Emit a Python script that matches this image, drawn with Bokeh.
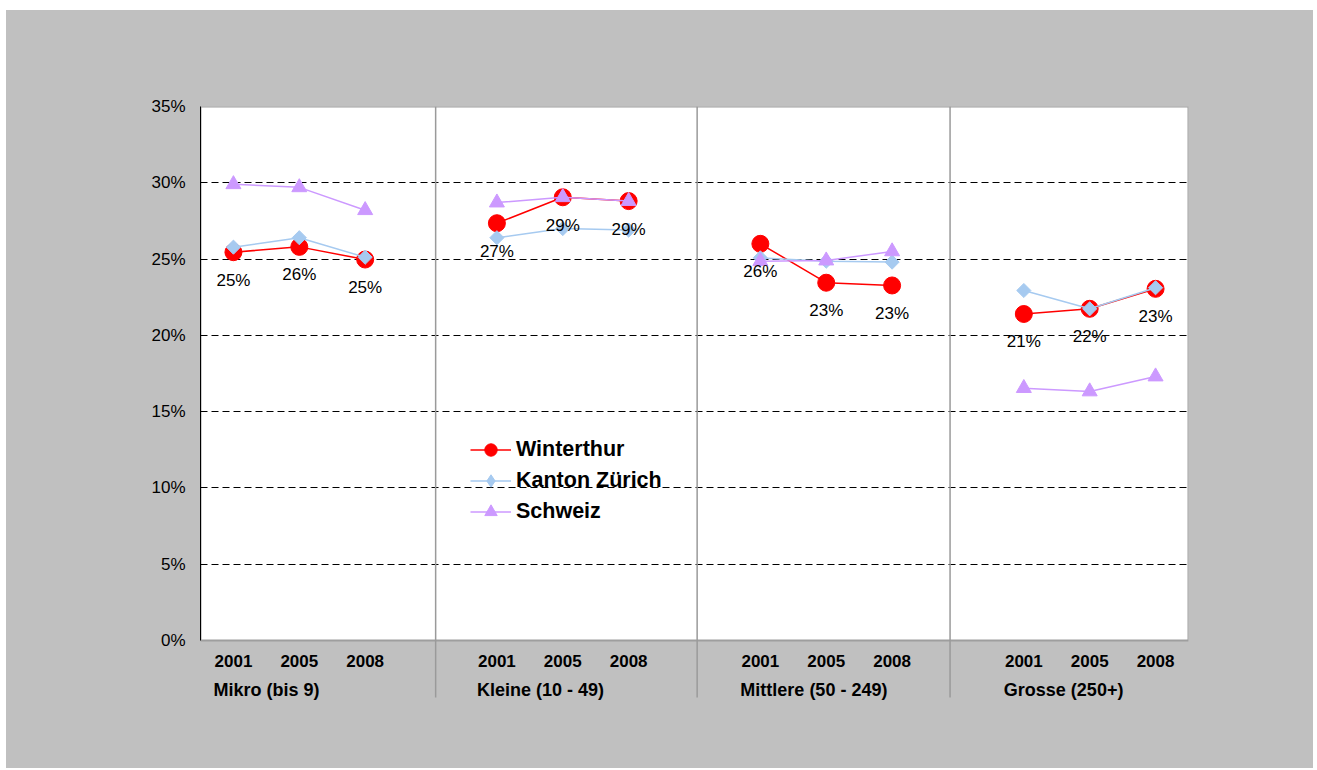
import numpy as np
from bokeh.plotting import figure
from bokeh.models import Range1d, FixedTicker, Legend, LegendItem
from bokeh.core.properties import value
from bokeh.embed import file_html
from bokeh.resources import INLINE

# ---------------- data ----------------
groups = ["Mikro (bis 9)", "Kleine (10 - 49)", "Mittlere (50 - 249)", "Grosse (250+)"]
years = ["2001", "2005", "2008"]
winterthur = [25.45, 25.8, 24.97, 27.35, 29.05, 28.8, 26.0, 23.45, 23.27, 21.4, 21.74, 23.05]
kanton_zuerich = [25.78, 26.4, 25.12, 26.4, 27.0, 26.9, 25.08, 24.86, 24.8, 22.94, 21.74, 23.12]
schweiz = [29.9, 29.7, 28.2, 28.7, 29.05, 28.8, 24.86, 24.9, 25.5, 16.54, 16.32, 17.3]
y_ticks = [0, 5, 10, 15, 20, 25, 30, 35]

# ---------------- layout ----------------
FONT = "Liberation Sans"
GRAY = "#C0C0C0"
W, H = 1307, 758
FRAME_L, FRAME_R, FRAME_T, FRAME_B = 194, 1182, 96, 695   # figure px
ZERO_PX = 630                                             # figure px of 0 %
Y_MAX = y_ticks[-1]
px_per_unit = (ZERO_PX - FRAME_T) / Y_MAX
y_start = -(FRAME_B - ZERO_PX) / px_per_unit
sep_bottom = -(687 - ZERO_PX) / px_per_unit
slots_per_group = len(years) + 1
n_slots = len(groups) * slots_per_group - 1
separators = [3.57, 7.54, 11.38]


def slot(g, j):
    return g * slots_per_group + j + 0.5


def series_xy(vals):
    xs, ys = [], []
    for g in range(len(groups)):
        for j in range(len(years)):
            xs.append(slot(g, j))
            ys.append(vals[g * len(years) + j])
        xs.append(np.nan)
        ys.append(np.nan)
    return xs, ys


p = figure(width=W, height=H, output_backend="svg", toolbar_location=None,
           x_range=Range1d(0, n_slots), y_range=Range1d(y_start, Y_MAX),
           x_axis_location=None, min_border_left=FRAME_L,
           min_border_right=W - FRAME_R, min_border_top=FRAME_T,
           min_border_bottom=H - FRAME_B, margin=(10, 0, 0, 6))
p.background_fill_color = GRAY
p.border_fill_color = GRAY
p.outline_line_color = None
p.styles = {"background-color": GRAY}

# plot area
p.quad(left=[0], right=[n_slots], bottom=[0], top=[Y_MAX], fill_color="white",
       line_color="#9E9E9E", line_width=2, level="image")

# y axis
ax = p.yaxis[0]
ax.ticker = FixedTicker(ticks=y_ticks)
ax.bounds = (0, Y_MAX)
ax.major_label_overrides = {t: f"{t}%" for t in y_ticks}
ax.major_tick_out = 0
ax.major_tick_in = 0
ax.minor_tick_out = 0
ax.minor_tick_in = 0
ax.axis_line_color = "black"
ax.axis_line_width = 1
ax.major_label_standoff = 15
ax.major_label_text_font = FONT
ax.major_label_text_font_size = "17px"
ax.major_label_text_color = "black"

g = p.ygrid[0]
g.ticker = FixedTicker(ticks=y_ticks[1:])
g.grid_line_color = "black"
g.grid_line_dash = "7 4"
g.grid_line_width = 1
p.xgrid.visible = False

# group separators
p.segment(x0=separators, y0=[Y_MAX] * 3, x1=separators, y1=[sep_bottom] * 3,
          line_color="#9A9A9A", line_width=1.5)

# series
series = [
    ("Winterthur", winterthur, "#FF0000", "circle", 17, 0, "circle"),
    ("Kanton Zürich", kanton_zuerich, "#A6CAF0", "square", 10, np.pi / 4, "diamond"),
    ("Schweiz", schweiz, "#CC99FF", "triangle", 15, 0, "triangle"),
]
items = []
for name, vals, col, marker, size, ang, leg_marker in series:
    xs, ys = series_xy(vals)
    lr = p.line(xs, ys, line_color=col, line_width=1.5)
    px = [x for x in xs if not np.isnan(x)]
    p.scatter(px, vals, marker=marker, size=size, angle=ang,
              fill_color=col, line_color=col)
    # legend-only glyph (not drawn in the plot) so the key shows the marker
    lg = p.scatter(x=[np.nan], y=[np.nan], marker=leg_marker, size=size,
                   fill_color=col, line_color=col)
    items.append(LegendItem(label=name, renderers=[lr, lg]))

# data labels (Winterthur)
wx = [slot(g_, j) for g_ in range(len(groups)) for j in range(len(years))]
p.text(x=wx, y=winterthur, text=[f"{round(v)}%" for v in winterthur],
       text_align="center", text_baseline="middle", y_offset=28,
       text_font=value(FONT), text_font_size="17px", text_color="black")

# category labels
p.text(x=wx, y=[0] * len(wx), text=years * len(groups), text_align="center",
       text_baseline="middle", y_offset=20, text_font=value(FONT),
       text_font_size="17px", text_font_style="bold", text_color="black")
p.text(x=[slot(g_, 0) for g_ in range(len(groups))], y=[0] * len(groups),
       text=groups, text_align="left", text_baseline="middle", x_offset=-20,
       y_offset=49, text_font=value(FONT), text_font_size="18px",
       text_font_style="bold", text_color="black")

legend = Legend(items=items, location=(270, 178), glyph_width=41,
                glyph_height=31, label_height=31, label_standoff=5, spacing=0,
                padding=0, margin=0, background_fill_alpha=0,
                border_line_color=None, label_text_font=FONT,
                label_text_font_size="21.5px", label_text_font_style="bold",
                label_text_color="black")
p.add_layout(legend)

open("out.html", "w").write(file_html(p, INLINE))
